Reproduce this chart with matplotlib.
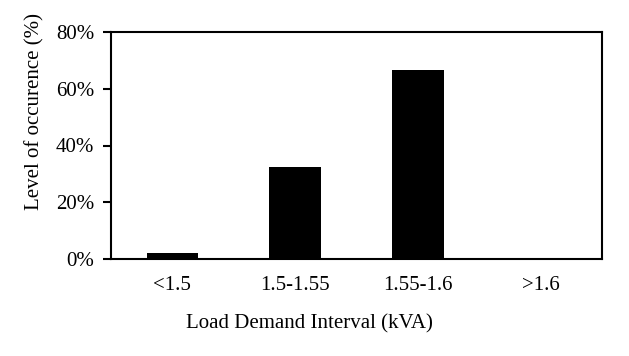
import matplotlib
matplotlib.use("Agg")
import matplotlib.pyplot as plt
from matplotlib.ticker import PercentFormatter

categories = ["<1.5", "1.5-1.55", "1.55-1.6", ">1.6"]
values = [2.0, 32.5, 66.5, 0.0]
yticks = [0, 20, 40, 60, 80]

plt.rcParams['font.family'] = ['Liberation Serif', 'DejaVu Serif']

W, H = 629, 356
fig = plt.figure(figsize=(W/100, H/100), dpi=100)
ax = fig.add_axes([111/W, 1 - 259/H, (602-111)/W, (259-32)/H])

x = range(len(categories))
ax.bar(x, values, width=0.42, color='black')
ax.set_xlim(-0.5, 3.5)
ax.set_ylim(0, 80)
ax.set_yticks(yticks)
ax.yaxis.set_major_formatter(PercentFormatter(decimals=0))
ax.set_xticks(list(x))
ax.set_xticklabels(categories)
ax.tick_params(axis='x', length=0, pad=12, labelsize=15)
ax.tick_params(axis='y', direction='out', length=6, width=1.5, labelsize=15, pad=6)
for s in ax.spines.values():
    s.set_linewidth(1.5)
fig.text(309/W, 1 - 324/H, "Load Demand Interval (kVA)", fontsize=15,
         ha='center', va='center')
fig.text(35/W, 1 - 111/H, "Level of occurence (%)", fontsize=15,
         rotation=90, ha='center', va='center')

fig.savefig("out.png", dpi=100)
